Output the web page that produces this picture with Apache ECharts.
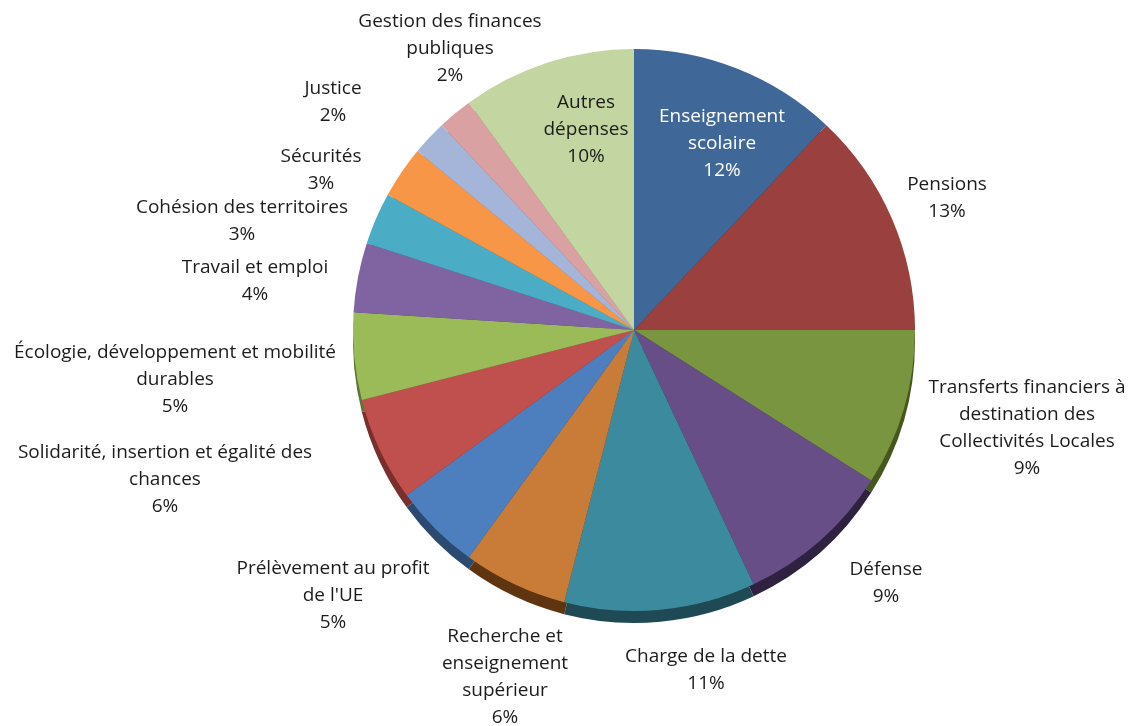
<!DOCTYPE html>
<html><head><meta charset="utf-8">
<script src="https://cdn.jsdelivr.net/npm/echarts@6/dist/echarts.min.js"></script>
<style>html,body{margin:0;padding:0;background:#fff}#c{width:1131px;height:726px}</style>
</head><body><div id="c"></div>
<script>
// ---- data ----
const categories = [
  'Enseignement\nscolaire',
  'Pensions',
  'Transferts financiers à\ndestination des\nCollectivités Locales',
  'Défense',
  'Charge de la dette',
  'Recherche et\nenseignement\nsupérieur',
  "Prélèvement au profit\nde l'UE",
  'Solidarité, insertion et égalité des\nchances',
  'Écologie, développement et mobilité\ndurables',
  'Travail et emploi',
  'Cohésion des territoires',
  'Sécurités',
  'Justice',
  'Gestion des finances\npubliques',
  'Autres\ndépenses'
];
const values = [12, 13, 9, 9, 11, 6, 5, 6, 5, 4, 3, 3, 2, 2, 10];

// ---- styling / layout ----
const colors = ['#3F6797','#9A403E','#7A953F','#674E87','#3C8A9E','#C97C37',
                '#4D7FBE','#C0504D','#9BBB59','#8064A2','#4BACC6','#F79646',
                '#A5B5D9','#D9A1A2','#C3D5A0'];
const sideColors = ['#243C58','#5A2423','#45561F','#2E2240','#1F4A55','#5E3510',
                    '#2C4A70','#7A2F2D','#5E7536','#4C3A63','#2B6878','#9A5A26',
                    '#6A7690','#8E6667','#7C8A66'];
const labelPos = [
  [722,144],[947,198],[1027,428],[886,583],[706,670],[505,677],[333,596],
  [165,480],[175,380],[255,281],[242,221],[321,170],[333,102],[450,49],[586,130]
];
const CX = 634, CY = 330, R = 281;

const chart = echarts.init(document.getElementById('c'), null, {renderer:'canvas'});
const topData = categories.map((n,i)=>({
  name:n, value:values[i],
  itemStyle:{color:colors[i]},
  label:{color: i===0 ? '#ffffff' : '#1c1c1c'}
}));
const sideData = categories.map((n,i)=>({name:n, value:values[i], itemStyle:{color:sideColors[i]}}));

chart.setOption({
  animation:false,
  backgroundColor:'#ffffff',
  series:[
    {
      type:'pie', silent:true, startAngle:90, clockwise:true,
      center:[CX, CY+12], radius:R,
      data:sideData, label:{show:false}, labelLine:{show:false},
      emphasis:{disabled:true}
    },
    {
      type:'pie', silent:true, startAngle:90, clockwise:true,
      center:[CX, CY], radius:R,
      data:topData,
      emphasis:{disabled:true},
      itemStyle:{borderWidth:0},
      label:{
        show:true, position:'outside', overflow:'none', edgeDistance:0,
        fontFamily:'Open Sans', fontSize:19, lineHeight:27, align:'center',
        formatter:p=>p.name+'\n'+p.value+'%'
      },
      labelLine:{show:false},
      labelLayout:function(params){
        const p = labelPos[params.dataIndex];
        return {x:p[0], y:p[1], align:'center', verticalAlign:'middle'};
      }
    }
  ]
});
</script>
</body></html>
